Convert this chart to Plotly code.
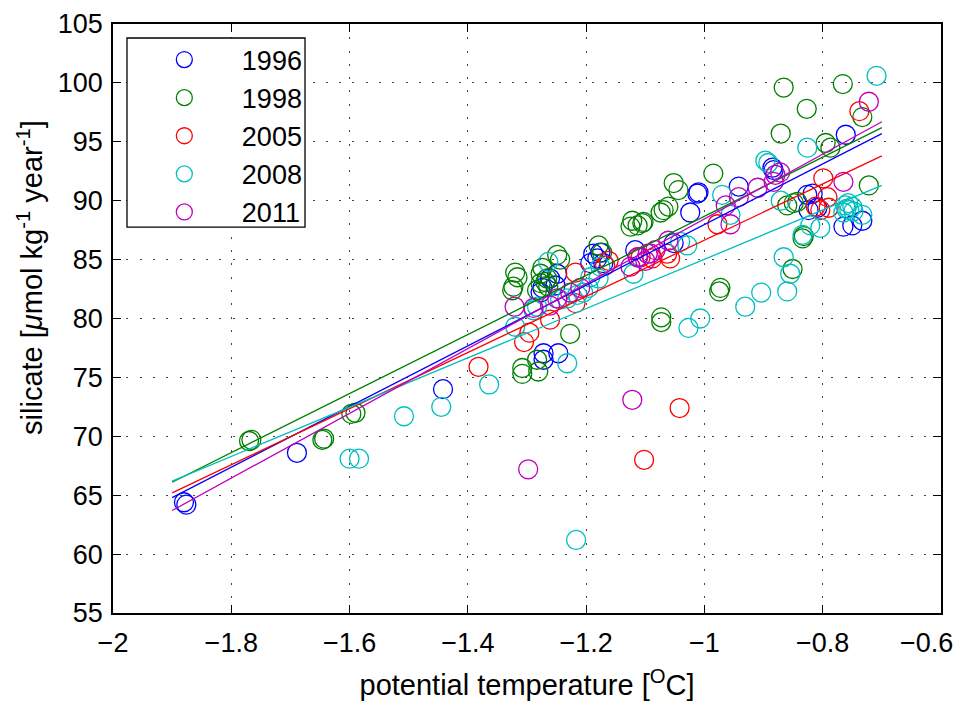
import plotly.graph_objects as go

# ---------------- data ----------------
years = ["1996", "1998", "2005", "2008", "2011"]
colors = ["#0000ff", "#008000", "#ff0000", "#00bfbf", "#bf00bf"]

x_1996 = [-1.880, -1.876, -1.689, -1.442, -1.272, -1.247, -1.272, -1.261, -1.249, -1.274,
          -1.252, -1.277, -1.188, -1.181, -1.171, -1.176, -1.193, -1.052, -1.117, -1.012,
          -1.010, -1.024, -0.942, -0.885, -0.883, -0.761, -0.817, -0.826, -0.809, -0.824,
          -0.765, -0.750, -0.733]
y_1996 = [64.4, 64.2, 68.6, 74.0, 77.05, 77.05, 76.5, 83.4, 83.8, 82.6,
          82.8, 82.2, 85.5, 85.1, 84.7, 85.6, 84.7, 86.4, 85.8, 90.6,
          90.7, 89.0, 91.2, 92.8, 92.6, 95.6, 90.6, 90.5, 89.4, 89.2,
          87.8, 87.9, 88.3]

x_1998 = [-1.770, -1.766, -1.646, -1.643, -1.597, -1.590, -1.308, -1.308, -1.281, -1.283,
          -1.227, -1.320, -1.316, -1.323, -1.325, -1.274, -1.277, -1.266, -1.277, -1.264,
          -1.283, -1.269, -1.244, -1.249, -1.179, -1.173, -1.125, -1.113, -1.105, -1.069,
          -1.061, -1.074, -1.122, -1.103, -1.052, -1.044, -0.985, -1.073, -1.073, -0.973,
          -0.975, -0.851, -0.834, -0.832, -0.860, -0.849, -0.843, -0.722, -0.866, -0.766,
          -0.827, -0.733, -0.871, -0.795, -0.787]
y_1998 = [69.6, 69.7, 69.7, 69.8, 71.9, 72.0, 75.3, 75.8, 75.5, 76.5,
          78.7, 83.9, 83.5, 82.7, 82.4, 84.3, 83.8, 83.4, 83.0, 82.7,
          82.4, 83.1, 85.0, 85.4, 86.2, 85.6, 87.8, 87.9, 88.1, 89.2,
          89.5, 89.0, 88.3, 88.2, 91.5, 90.9, 92.3, 80.1, 79.7, 82.6,
          82.3, 84.2, 86.8, 87.0, 89.6, 89.8, 89.9, 91.3, 99.6, 99.9,
          97.8, 97.1, 95.7, 94.9, 94.5]

x_2005 = [-1.382, -1.305, -1.296, -1.261, -1.218, -1.218, -1.168, -1.162, -1.063, -1.058,
          -1.088, -1.108, -0.978, -0.799, -0.792, -0.812, -0.804, -0.790, -0.738, -1.102,
          -1.042]
y_2005 = [75.9, 78.0, 78.8, 79.9, 81.3, 83.9, 84.5, 84.9, 85.5, 85.1,
          85.1, 85.2, 88.0, 91.9, 90.3, 89.5, 89.2, 89.4, 97.6, 68.0,
          72.4]

x_2008 = [-1.600, -1.584, -1.508, -1.445, -1.364, -1.320, -1.232, -1.217, -1.027, -1.007,
          -0.931, -0.904, -0.860, -0.866, -0.855, -0.834, -0.762, -0.755, -0.750, -0.765,
          -0.757, -0.748, -0.760, -0.733, -0.804, -0.821, -0.709, -0.826, -0.897, -0.892,
          -0.970, -0.956, -0.871, -1.029, -1.041, -1.264, -1.289, -1.283, -1.244, -1.232,
          -1.215, -1.205, -1.196, -1.176, -1.120, -1.179, -1.193]
y_2008 = [68.1, 68.1, 71.7, 72.5, 74.4, 79.3, 76.2, 61.2, 79.2, 80.0,
          81.0, 82.2, 82.3, 85.2, 83.8, 87.1, 89.6, 89.2, 89.5, 89.0,
          89.8, 89.1, 89.3, 88.8, 87.7, 87.9, 100.6, 94.5, 93.4, 93.2,
          90.5, 88.8, 90.0, 86.2, 86.5, 84.8, 80.7, 81.0, 81.6, 81.7,
          82.0, 82.2, 82.6, 84.4, 83.8, 83.4, 83.5]

x_2011 = [-1.321, -1.298, -1.122, -1.289, -1.261, -1.249, -1.210, -1.227, -1.125, -1.112,
          -1.100, -1.096, -1.061, -1.083, -1.091, -1.113, -0.964, -0.956, -0.910, -0.942,
          -0.880, -0.872, -0.883, -0.765, -0.722]
y_2011 = [81.0, 67.2, 73.1, 80.9, 81.1, 81.7, 82.6, 82.2, 84.4, 85.2,
          84.9, 85.5, 86.6, 85.8, 85.5, 85.2, 89.6, 88.0, 91.1, 90.3,
          92.2, 92.4, 91.6, 91.6, 98.4]

# regression lines (end points)
fit_x = [-1.9, -0.7]
fit_1996 = [64.8, 95.7]
fit_1998 = [66.1, 96.2]
fit_2005 = [65.2, 93.8]
fit_2008 = [66.2, 91.3]
fit_2011 = [63.7, 96.7]

x_ticks = [-2, -1.8, -1.6, -1.4, -1.2, -1, -0.8, -0.6]
x_ticklabels = ["\u22122", "\u22121.8", "\u22121.6", "\u22121.4", "\u22121.2", "\u22121", "\u22120.8", "\u22120.6"]
y_ticks = [55, 60, 65, 70, 75, 80, 85, 90, 95, 100, 105]

xs = [x_1996, x_1998, x_2005, x_2008, x_2011]
ys = [y_1996, y_1998, y_2005, y_2008, y_2011]
fits = [fit_1996, fit_1998, fit_2005, fit_2008, fit_2011]

FONT = "Liberation Sans, Arial, Helvetica, sans-serif"
NB = "\u00a0"
TICK_SIZE = 27
TITLE_SIZE = 29

fig = go.Figure()
for yr, c, x, y in zip(years, colors, xs, ys):
    fig.add_trace(go.Scatter(
        x=x, y=y, mode="markers", name=NB * 5 + yr, legendgroup=yr,
        marker=dict(symbol="circle-open", size=19, color=c, line=dict(width=1.3)),
    ))
for yr, c, f in zip(years, colors, fits):
    fig.add_trace(go.Scatter(
        x=fit_x, y=f, mode="lines", showlegend=False, legendgroup=yr,
        line=dict(color=c, width=1.3),
    ))

axis_common = dict(
    showline=True, linecolor="black", linewidth=1.5, mirror="ticks",
    ticks="inside", ticklen=8, tickwidth=1, tickcolor="black",
    showgrid=True, gridcolor="#444444", gridwidth=1, griddash="2px,11.3px",
    zeroline=False, tickfont=dict(family=FONT, size=TICK_SIZE, color="black"),
    ticklabeloverflow="allow",
)

# the last x label sits at the very edge of the figure; it is drawn separately,
# right-aligned inside the page, like in the reference
fig.update_xaxes(
    range=[-2, -0.59999], tickvals=x_ticks, ticktext=x_ticklabels[:-1] + [""],
    title=dict(text="potential temperature [<sup>O</sup>C]",
               font=dict(family=FONT, size=TITLE_SIZE, color="black"), standoff=18),
    ticklabelstandoff=5, **axis_common,
)
fig.update_yaxes(
    range=[55, 105], tickvals=y_ticks,
    ticklabelstandoff=3, **axis_common,
)

fig.add_annotation(
    text=x_ticklabels[-1], xref="paper", yref="paper", x=1.0169, y=-0.0509,
    xanchor="right", yanchor="middle", showarrow=False,
    font=dict(family=FONT, size=TICK_SIZE, color="black"),
)

# y-axis title (placed as rotated text, as in the reference)
fig.add_annotation(
    text="silicate [<i>μ</i>mol kg<sup>-1</sup> year<sup>-1</sup>]",
    xref="paper", yref="paper", x=-0.1002, y=0.569,
    xanchor="center", yanchor="middle", textangle=-90, showarrow=False,
    font=dict(family=FONT, size=TITLE_SIZE, color="black"),
)

fig.add_shape(type="rect", xref="paper", yref="paper",
              x0=0.0169, x1=0.2319, y0=0.6553, y1=0.9762,
              line=dict(color="black", width=1.3), fillcolor="white", layer="above")

fig.update_layout(
    width=963, height=701,
    margin=dict(l=113, r=22, t=24, b=88, autoexpand=False),
    paper_bgcolor="white", plot_bgcolor="white",
    font=dict(family=FONT, size=TICK_SIZE, color="black"),
    legend=dict(x=0.062, y=0.9805, xanchor="left", yanchor="top",
                bgcolor="rgba(0,0,0,0)", borderwidth=0,
                font=dict(family=FONT, size=TICK_SIZE, color="black"),
                tracegroupgap=0, itemwidth=30),
    showlegend=True,
)

fig.write_html("out.html")
